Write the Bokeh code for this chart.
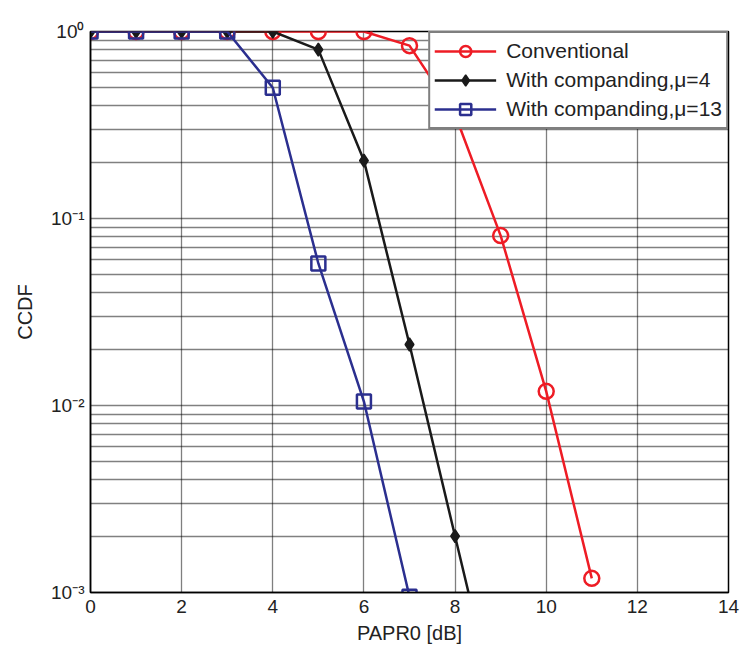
from bokeh.plotting import figure
from bokeh.models import Range1d, FixedTicker, Legend, LegendItem
from bokeh.embed import file_html
from bokeh.resources import INLINE

# Data
x_conv = [0, 1, 2, 3, 4, 5, 6, 7, 8, 9, 10, 11]
y_conv = [1, 1, 1, 1, 1, 1, 1, 0.84, 0.36, 0.081, 0.0119, 0.00119]

x_mu4 = [0, 1, 2, 3, 4, 5, 6, 7, 8, 9]
y_mu4 = [1, 1, 1, 1, 1, 0.80, 0.204, 0.0212, 0.002, 0.00019]

x_mu13 = [0, 1, 2, 3, 4, 5, 6, 7]
y_mu13 = [1, 1, 1, 1, 0.5, 0.0575, 0.0105, 0.00095]

x_ticks = [0, 2, 4, 6, 8, 10, 12, 14]
y_ticks = [0.001, 0.01, 0.1, 1]
y_minor = [m * d for d in (0.001, 0.01, 0.1) for m in range(2, 10)]
y_tick_labels = {0.001: "10⁻³", 0.01: "10⁻²", 0.1: "10⁻¹", 1: "10⁰"}

labels = ["Conventional", "With companding,μ=4", "With companding,μ=13"]

FONT = "Liberation Sans"

p = figure(width=742, height=655, y_axis_type="log",
           x_range=Range1d(0, 14), y_range=Range1d(0.001, 1),
           output_backend="svg", toolbar_location=None,
           min_border_left=90, min_border_right=14, min_border_top=31, min_border_bottom=63)

p.outline_line_color = "black"
p.outline_line_width = 1.5

# grids
p.xgrid.ticker = FixedTicker(ticks=x_ticks)
p.xgrid.grid_line_color = "black"
p.xgrid.grid_line_dash = "1 1"
p.xgrid.grid_line_width = 1.3
p.ygrid.ticker = FixedTicker(ticks=y_ticks, minor_ticks=y_minor)
p.ygrid.grid_line_color = "black"
p.ygrid.grid_line_dash = "1 1"
p.ygrid.grid_line_width = 1.3
p.ygrid.minor_grid_line_color = "black"
p.ygrid.minor_grid_line_dash = "1 1"
p.ygrid.minor_grid_line_width = 1.3

# axes
p.xaxis.ticker = FixedTicker(ticks=x_ticks)
p.yaxis.ticker = FixedTicker(ticks=y_ticks, minor_ticks=y_minor)
p.yaxis.major_label_overrides = y_tick_labels
for ax in (p.xaxis[0], p.yaxis[0]):
    ax.axis_line_color = "black"
    ax.axis_line_width = 1.5
    ax.major_tick_in = 0
    ax.major_tick_out = 0
    ax.minor_tick_in = 0
    ax.minor_tick_out = 0
    ax.major_label_text_font = FONT
    ax.major_label_text_font_size = "19px"
    ax.major_label_text_color = "#222222"
    ax.axis_label_text_font = FONT
    ax.axis_label_text_font_size = "20px"
    ax.axis_label_text_font_style = "normal"
    ax.axis_label_text_color = "#222222"
p.xaxis.axis_label = "PAPR0 [dB]"
p.yaxis.axis_label = "CCDF"
p.xaxis.major_label_standoff = 7
p.xaxis.axis_label_standoff = 6
p.yaxis.major_label_standoff = 6
p.yaxis.axis_label_standoff = 12

# series
r1l = p.line(x_conv, y_conv, line_color="#ee1c25", line_width=2.5)
r1m = p.scatter(x_conv, y_conv, marker="circle", size=15, line_color="#ee1c25",
                line_width=2.5, fill_alpha=0)

r2l = p.line(x_mu4, y_mu4, line_color="#1a1a1a", line_width=2.5)
r2m = p.scatter(x_mu4, y_mu4, marker="diamond", size=13, line_color="#1a1a1a",
                fill_color="#1a1a1a", line_width=1.5)

r3l = p.line(x_mu13, y_mu13, line_color="#2b2f8f", line_width=2.5)
r3m = p.scatter(x_mu13, y_mu13, marker="square", size=14, line_color="#2b2f8f",
                line_width=2.5, fill_alpha=0)

legend = Legend(items=[
    LegendItem(label=labels[0], renderers=[r1l, r1m]),
    LegendItem(label=labels[1], renderers=[r2l, r2m]),
    LegendItem(label=labels[2], renderers=[r3l, r3m]),
], location="top_right")
legend.label_text_font = FONT
legend.label_text_font_size = "21px"
legend.label_text_color = "#222222"
legend.glyph_width = 62
legend.label_standoff = 10
legend.border_line_color = "black"
legend.border_line_width = 2
legend.margin = 0
legend.padding = 4
legend.spacing = 1
legend.label_height = 28
legend.glyph_height = 28
legend.background_fill_alpha = 1
p.add_layout(legend)

open("out.html", "w").write(file_html(p, INLINE))
